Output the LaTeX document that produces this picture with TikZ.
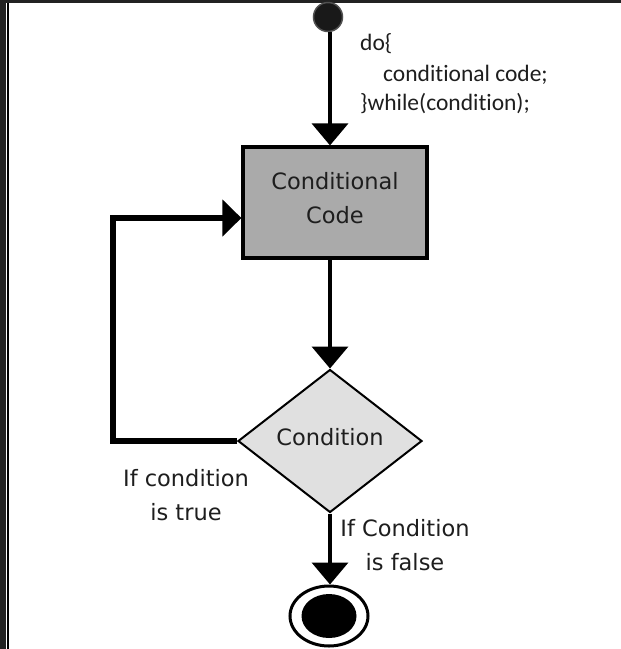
\documentclass[tikz,border=0pt]{standalone}
\usepackage{fontspec}
\usetikzlibrary{arrows.meta,shapes.geometric}
\newfontfamily\lblfont{DejaVu Sans}
\newfontfamily\codefont[Ligatures={NoCommon}]{Carlito}
\definecolor{framedark}{RGB}{34,34,34}
\definecolor{boxgray}{RGB}{170,170,170}
\definecolor{diagray}{RGB}{224,224,224}
\definecolor{txt}{RGB}{30,30,30}
\tikzset{
  flowline/.style={line width=3.8pt, -{Triangle[width=36pt,length=22pt]}},
  loopline/.style={line width=5.5pt, -{Triangle[width=36pt,length=19pt]}},
  procbox/.style={draw, line width=3.2pt, fill=boxgray, minimum width=184pt, minimum height=111pt,
    inner sep=0pt, align=center, text=txt, font=\lblfont\fontsize{22.5pt}{34pt}\selectfont},
  decbox/.style={draw, diamond, line width=2pt, fill=diagray, minimum width=184pt, minimum height=143pt,
    inner sep=0pt, text depth=8pt, text=txt, font=\lblfont\fontsize{22.5pt}{34pt}\selectfont},
  lbltext/.style={anchor=base, inner sep=0pt, text=txt, font=\lblfont\fontsize{22.5pt}{34pt}\selectfont},
  codetext/.style={anchor=base west, inner sep=0pt, text=txt, font=\codefont\fontsize{23.5pt}{30pt}\selectfont},
}
\begin{document}
\begin{tikzpicture}[x=1pt,y=-1pt]
\useasboundingbox (0,0) rectangle (621,649);
\fill[white] (0,0) rectangle (621,649);
% frame
\fill[framedark] (0,0) rectangle (6,649);
\fill[framedark] (0,0) rectangle (621,3);
\draw[line width=1.6pt] (7.8,3) -- (7.8,649);
% nodes
\node[circle, fill={rgb,255:red,25;green,25;blue,25}, draw={rgb,255:red,80;green,80;blue,80}, line width=1.5pt,
  minimum size=29pt, inner sep=0pt] (start) at (328,17) {};
\node[procbox] (box) at (335,202.5) {Conditional\\Code\rule[-10pt]{0pt}{10pt}};
\node[decbox] (dia) at (330,441) {Condition};
\node[ellipse, draw, line width=3pt, fill=white, minimum width=78pt, minimum height=60pt, inner sep=0pt] (end) at (329,616) {};
\node[ellipse, fill=black, minimum width=55pt, minimum height=44pt, inner sep=0pt] (endin) at (end) {};
\coordinate (lc) at (113,218);
% code text
\node[codetext] (code1) at (360,50) {do\{};
\node[codetext] (code2) at (383,81) {conditional code;};
\node[codetext] (code3) at (360,110) {\}while(condition);};
% labels
\node[lbltext] (t1) at (186,486) {If condition};
\node[lbltext] (t2) at (186,520) {is true};
\node[lbltext] (f1) at (405,536) {If Condition};
\node[lbltext] (f2) at (405,570) {is false};
% connectors
\draw[flowline] (start.south -| dia.north) -- (dia.north |- box.north);
\draw[flowline] (dia.north |- box.south) -- (dia.north);
\draw[flowline] (dia.south) -- (dia.south |- end.north);
\draw[loopline] (dia.west) -| (lc) -- (lc -| box.west);
\end{tikzpicture}
\end{document}
